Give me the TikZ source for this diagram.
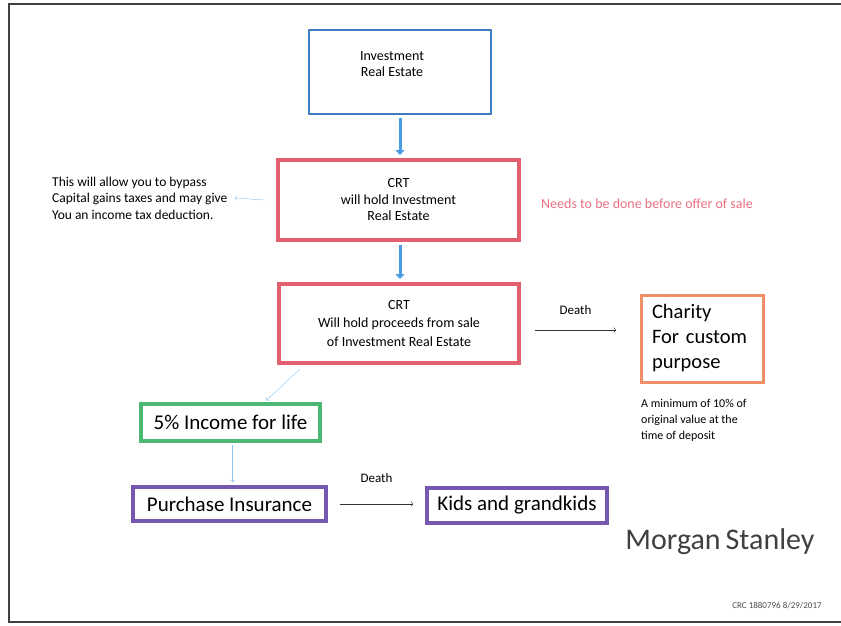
\documentclass[tikz,border=0pt]{standalone}
\usepackage{fontspec}
\setmainfont{Carlito}
\usepackage{tikz}
\usetikzlibrary{arrows,arrows.meta,positioning}

\definecolor{boxblue}{HTML}{3F7DC4}
\definecolor{boxred}{HTML}{E2606F}
\definecolor{boxorange}{HTML}{F08E68}
\definecolor{boxgreen}{HTML}{4DB873}
\definecolor{boxpurple}{HTML}{7658B0}
\definecolor{flowblue}{HTML}{4A9BE2}
\definecolor{thinblue}{HTML}{8CC3EA}
\definecolor{notered}{HTML}{E8707F}

\begin{document}
\begin{tikzpicture}[x=1pt, y=-1pt,
    step box/.style={rectangle, draw, align=center, inner sep=2pt,
                     font=\fontsize{14}{18.5}\selectfont},
    big box/.style={rectangle, draw, line width=3.5pt, inner sep=2pt,
                    font=\fontsize{21}{24}\selectfont},
    flow/.style={draw=flowblue, line width=3pt, -{Triangle[length=5pt, width=9pt]}},
    thin flow/.style={draw=thinblue, thin, ->},
    death/.style={draw=black!80, thin, ->},
    note/.style={align=left, inner sep=0pt}
]
    \useasboundingbox (0,0) rectangle (841,625);

    % Page frame
    \draw[line width=2pt, black!75] (845,4) -- (9,4) -- (9,622) -- (845,622);

    % Main chain of trust boxes
    \node[step box, draw=boxblue, line width=2.5pt, minimum width=182pt, minimum height=84pt,
          label={[xshift=-8pt, yshift=8pt, align=center, font=\fontsize{14}{16.5}\selectfont]center:Investment\\Real Estate}]
         (estate) at (400,72) {};
    \node[step box, draw=boxred, line width=4pt, minimum width=241pt, minimum height=80pt,
          font=\fontsize{14}{16.5}\selectfont]
         (crthold) at (398.5,200) {CRT\\will hold Investment\\Real Estate};
    \node[step box, draw=boxred, line width=4pt, minimum width=240pt, minimum height=79pt]
         (crtsale) at (399,323.5) {CRT\\Will hold proceeds from sale\\of Investment Real Estate};

    % Charity box and its note
    \node[big box, draw=boxorange, line width=3pt, minimum width=122pt, minimum height=87pt,
          align=left, text width=100pt, font=\fontsize{20.5}{25}\selectfont]
         (charity) at (702,338.5) {Charity\\For custom\\purpose};
    \node[note, font=\fontsize{12}{16}\selectfont, anchor=north west]
         (minimum) at (641,399) {A minimum of 10\% of\\original value at the\\time of deposit};

    % Income and insurance boxes
    \node[big box, draw=boxgreen, minimum width=179pt, minimum height=37pt]
         (income) at (230.5,422.5) {5\% Income for life};
    \node[big box, draw=boxpurple, minimum width=193pt, minimum height=34pt]
         (insurance) at (229.5,504) {Purchase Insurance};
    \node[big box, draw=boxpurple, minimum width=180pt, minimum height=35pt]
         (kids) at (517,505.5) {Kids and grandkids};

    % Side notes
    \node[note, font=\fontsize{13.5}{16.5}\selectfont, anchor=west]
         (bypass) at (52,198) {This will allow you to bypass\\Capital gains taxes and may give\\You an income tax deduction.};
    \node[note, text=notered, font=\fontsize{14}{16}\selectfont, anchor=west]
         (beforesale) at (541,204) {Needs to be done before offer of sale};

    % Flow arrows
    \draw[flow] ([yshift=-3pt]estate.south) -- ([yshift=3pt]estate.south |- crthold.north);
    \draw[flow] ([yshift=-3pt]estate.south |- crthold.south) -- ([yshift=3pt]estate.south |- crtsale.north);
    \coordinate (bypassin) at (235,198);
    \draw[thin flow] ([xshift=-12pt]crthold.west) -- (bypassin);
    \draw[thin flow] ([xshift=23pt, yshift=-4pt]crtsale.south west) -- ([xshift=36pt, yshift=2pt]income.north);
    \draw[thin flow] ([xshift=2pt, yshift=-2pt]income.south) -- ([xshift=3pt, yshift=3pt]insurance.north);

    % Death transfers
    \coordinate (charityin) at (616,330);
    \draw[death] ([xshift=14pt]crtsale.east |- charityin) -- (charityin)
          node[midway, above=12pt, font=\fontsize{13}{15}\selectfont] {Death};
    \draw[death] ([xshift=12pt]insurance.east) -- ([xshift=-12pt]kids.west |- insurance.east)
          node[midway, above=18pt, font=\fontsize{13}{15}\selectfont] {Death};

    % Branding
    \node[text=black!75, font=\fontsize{30}{34}\selectfont] (brand) at (720,542) {Morgan\,Stanley};
    \node[text=black!70, font=\fontsize{9}{10}\selectfont] (code) at (777,606) {CRC 1880796 8/29/2017};
\end{tikzpicture}
\end{document}
